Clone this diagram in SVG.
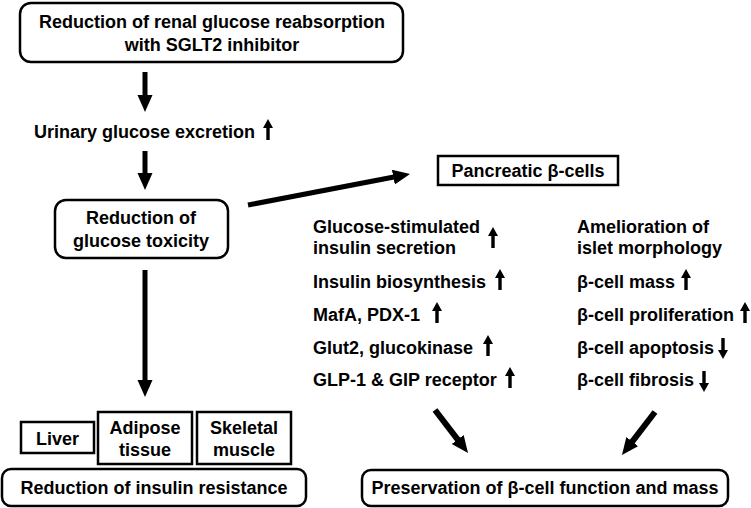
<svg xmlns="http://www.w3.org/2000/svg" xmlns:xlink="http://www.w3.org/1999/xlink" width="751" height="508" viewBox="0 0 751 508">
<defs>
<style>
text{font-family:"Liberation Sans",Arial,sans-serif;font-weight:bold;font-size:18px;fill:#000}
.c{text-anchor:middle}
.box{fill:#fff;stroke:#000;stroke-width:2.5}
.conn{stroke:#000;stroke-width:5;fill:none;marker-end:url(#head)}
</style>
<marker id="head" markerUnits="userSpaceOnUse" markerWidth="18" markerHeight="16" refX="2" refY="7.5" orient="auto" viewBox="0 0 18 16">
<path d="M0,0 L17,7.5 L0,15 Z" fill="#000"/>
</marker>
<path id="up" d="M-1.7,0 V-12 H-5 L0,-21 L5,-12 H1.7 V0 Z" fill="#000"/>
</defs>
<rect width="751" height="508" fill="#fff"/>

<g id="connectors">
<line class="conn" x1="145" y1="72" x2="145" y2="97"/>
<line class="conn" x1="145" y1="151" x2="145" y2="175"/>
<line class="conn" x1="145" y1="270" x2="145" y2="382"/>
<line class="conn" x1="248" y1="205" x2="395.3" y2="176.8"/>
<line class="conn" style="stroke-width:6" x1="435" y1="410" x2="458.9" y2="441.1"/>
<line class="conn" style="stroke-width:6" x1="655" y1="412" x2="631.1" y2="443.1"/>
</g>

<g id="sglt2">
<rect class="box" x="20" y="3" width="383" height="59" rx="11"/>
<text class="c" x="212" y="28">Reduction of renal glucose reabsorption</text>
<text class="c" x="212" y="51">with SGLT2 inhibitor</text>
</g>

<g id="urinary">
<text x="34" y="138">Urinary glucose excretion</text>
<use xlink:href="#up" x="268" y="140"/>
</g>

<g id="toxicity">
<rect class="box" x="55" y="200" width="173" height="58" rx="11"/>
<text class="c" x="141" y="224">Reduction of</text>
<text class="c" x="141" y="247">glucose toxicity</text>
</g>

<g id="pancreatic">
<rect class="box" x="438" y="156" width="180" height="29"/>
<text class="c" x="528" y="177">Pancreatic β-cells</text>
</g>

<g id="function-list">
<text x="313" y="233">Glucose-stimulated</text>
<text x="313" y="254">insulin secretion</text>
<use xlink:href="#up" x="493" y="248"/>
<text x="313" y="288">Insulin biosynthesis</text>
<use xlink:href="#up" x="500" y="290"/>
<text x="313" y="321">MafA, PDX-1</text>
<use xlink:href="#up" x="437" y="323"/>
<text x="313" y="354">Glut2, glucokinase</text>
<use xlink:href="#up" x="488" y="356"/>
<text x="313" y="386">GLP-1 &amp; GIP receptor</text>
<use xlink:href="#up" x="510" y="388"/>
</g>

<g id="morphology-list">
<text x="577" y="233">Amelioration of</text>
<text x="577" y="254">islet morphology</text>
<text x="577" y="288">β-cell mass</text>
<use xlink:href="#up" x="686" y="290"/>
<text x="577" y="321">β-cell proliferation</text>
<use xlink:href="#up" x="745" y="323"/>
<text x="577" y="354">β-cell apoptosis</text>
<use xlink:href="#up" transform="translate(723,338) rotate(180)"/>
<text x="577" y="386">β-cell fibrosis</text>
<use xlink:href="#up" transform="translate(704,371) rotate(180)"/>
</g>

<g id="liver">
<rect class="box" x="21" y="422" width="73" height="31"/>
<text class="c" x="57.5" y="445">Liver</text>
</g>
<g id="adipose">
<rect class="box" x="98" y="412" width="94" height="52"/>
<text class="c" x="145" y="434">Adipose</text>
<text class="c" x="145" y="456">tissue</text>
</g>
<g id="skeletal">
<rect class="box" x="197" y="412" width="94" height="52"/>
<text class="c" x="244" y="434">Skeletal</text>
<text class="c" x="244" y="456">muscle</text>
</g>

<g id="insulin-resistance">
<rect class="box" x="2" y="469" width="304" height="37" rx="9"/>
<text class="c" x="154" y="494">Reduction of insulin resistance</text>
</g>

<g id="preservation">
<rect class="box" x="362" y="470" width="366" height="36" rx="9"/>
<text class="c" x="545" y="494">Preservation of β-cell function and mass</text>
</g>
</svg>
